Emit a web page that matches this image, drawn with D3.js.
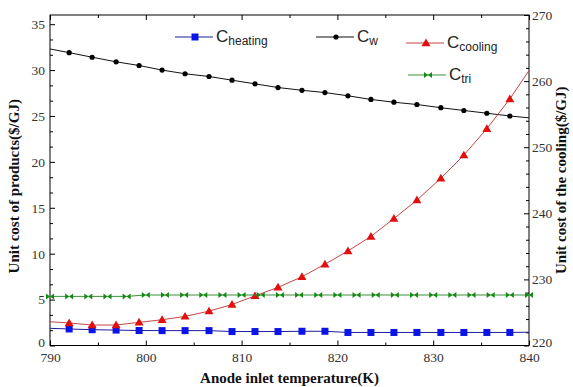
<!DOCTYPE html>
<html lang="en">
<head>
<meta charset="UTF-8">
<title>Unit cost vs anode inlet temperature</title>
<script src="https://cdn.jsdelivr.net/npm/d3@7/dist/d3.min.js"></script>
<style>
  body { margin: 0; background: #fff; }
  .tick text { font-family: "Liberation Serif", "DejaVu Serif", serif; font-size: 13.5px; fill: #333; }
  .axis-title { font-family: "Liberation Serif", serif; font-weight: bold; font-size: 15px; fill: #111; }
  .legend text { font-family: "Liberation Sans", Arial, sans-serif; fill: #222; }
</style>
</head>
<body>
<svg id="viz" width="573" height="387"></svg>
<script>
// marker temperatures for heating, w and cooling series (K)
const tempMarks = [792.0, 794.4, 796.9, 799.3, 801.7, 804.1, 806.6, 809.0, 811.4, 813.8,
                   816.3, 818.7, 821.1, 823.5, 825.9, 828.3, 830.8, 833.2, 835.6, 838.0];
// tri series markers every 2 K
const tempTri = [790, 792, 794, 796, 798, 800, 802, 804, 806, 808, 810, 812, 814,
                 816, 818, 820, 822, 824, 826, 828, 830, 832, 834, 836, 838, 840];

const cHeating = [1.8, 1.72, 1.68, 1.63, 1.62, 1.62, 1.62, 1.52, 1.52, 1.52,
                  1.55, 1.55, 1.42, 1.42, 1.42, 1.42, 1.42, 1.42, 1.42, 1.42];
const cW = [31.9, 31.4, 30.9, 30.5, 30.0, 29.6, 29.3, 28.9, 28.5, 28.1,
            27.8, 27.55, 27.2, 26.8, 26.5, 26.25, 25.9, 25.6, 25.3, 25.0];
const cCooling = [223.4, 223.1, 223.1, 223.5, 223.9, 224.4, 225.2, 226.2, 227.5, 228.8,
                  230.4, 232.3, 234.3, 236.5, 239.2, 242.0, 245.3, 248.8, 252.8, 257.3];
const cTri = [5.35, 5.35, 5.35, 5.35, 5.35, 5.5, 5.5, 5.5, 5.5, 5.5, 5.5, 5.5, 5.5,
              5.5, 5.5, 5.5, 5.5, 5.5, 5.5, 5.5, 5.5, 5.5, 5.5, 5.5, 5.5, 5.5];

// line ends at the frame edges (790 K and 840 K)
const heatingEnds = [1.87, 1.45];
const wEnds = [32.3, 24.8];
const coolingEnds = [223.6, 261.6];

const xTicks = [790, 800, 810, 820, 830, 840];
const yLeftTicks = [0, 5, 10, 15, 20, 25, 30, 35];
const yRightTicks = [220, 230, 240, 250, 260, 270];

const svg = d3.select("#viz");
const pLeft = 50, pRight = 529, pTop = 15, pBottom = 345.5;

const x = d3.scaleLinear().domain([790, 840]).range([pLeft, pRight]);
const yL = d3.scaleLinear().domain([0, 36]).range([pBottom, pTop]);
const yR = d3.scaleLinear().domain([220, 270]).range([pBottom, pTop]);

// frame
svg.append("rect")
  .attr("x", pLeft).attr("y", pTop)
  .attr("width", pRight - pLeft).attr("height", pBottom - pTop)
  .attr("fill", "none").attr("stroke", "#000").attr("stroke-width", 1);

function drawAxis(axis, tx, ty) {
  const g = svg.append("g").attr("transform", `translate(${tx},${ty})`).call(axis);
  g.select(".domain").remove();
  g.selectAll(".tick line").attr("stroke", "#000");
  return g;
}

const minorX = d3.range(795, 840, 10);
const minorL = d3.range(0, 36, 5 / 3).filter(v => Math.abs(v % 5) > 0.01 && Math.abs(v % 5 - 5) > 0.01);
const minorR = d3.range(222, 270, 2).filter(v => v % 10 !== 0);

// bottom / top
drawAxis(d3.axisBottom(x).tickValues(xTicks).tickSize(-5).tickPadding(7), 0, pBottom);
drawAxis(d3.axisBottom(x).tickValues(minorX).tickSize(-3).tickFormat(""), 0, pBottom);
drawAxis(d3.axisTop(x).tickValues(xTicks).tickSize(-5).tickFormat(""), 0, pTop);
drawAxis(d3.axisTop(x).tickValues(minorX).tickSize(-3).tickFormat(""), 0, pTop);

// left
drawAxis(d3.axisLeft(yL).tickValues(yLeftTicks).tickSize(-5).tickPadding(5), pLeft, 0)
  .selectAll(".tick text").filter(d => d === 0).attr("dy", "0.1em");
drawAxis(d3.axisLeft(yL).tickValues(minorL).tickSize(-3).tickFormat(""), pLeft, 0);

// right
drawAxis(d3.axisRight(yR).tickValues(yRightTicks).tickSize(-5).tickPadding(3), pRight, 0)
  .selectAll(".tick text").filter(d => d === 220).attr("dy", "0.1em");
drawAxis(d3.axisRight(yR).tickValues(minorR).tickSize(-3).tickFormat(""), pRight, 0);

// axis titles
svg.append("text").attr("class", "axis-title")
  .attr("x", (pLeft + pRight) / 2).attr("y", 383)
  .attr("text-anchor", "middle")
  .text("Anode inlet temperature(K)");
svg.append("text").attr("class", "axis-title")
  .attr("transform", `translate(19,${(pTop + pBottom) / 2 + 6}) rotate(-90)`)
  .attr("text-anchor", "middle")
  .text("Unit cost of products($/GJ)");
svg.append("text").attr("class", "axis-title")
  .attr("transform", `translate(566,${(pTop + pBottom) / 2}) rotate(-90)`)
  .attr("text-anchor", "middle")
  .text("Unit cost of the cooling($/GJ)");

// markers
const sym = {
  square: g => g.append("rect").attr("x", -3.5).attr("y", -3.5).attr("width", 7).attr("height", 7),
  circle: g => g.append("circle").attr("r", 2.6),
  triangle: g => g.append("path").attr("d", "M0,-4.5L4.5,3.2L-4.5,3.2Z"),
  bowtie: g => g.append("path").attr("d", "M-4,-3L0,0L-4,3ZM4,-3L0,0L4,3Z")
};

const series = [
  { xs: tempMarks, ys: cHeating, ends: heatingEnds, y: yL, line: "#1c1c9c", fill: "#0a14e6", shape: "square" },
  { xs: tempMarks, ys: cW, ends: wEnds, y: yL, line: "#111", fill: "#000", shape: "circle" },
  { xs: tempMarks, ys: cCooling, ends: coolingEnds, y: yR, line: "#c54545", fill: "#e30f0f", shape: "triangle" },
  { xs: tempTri, ys: cTri, ends: null, y: yL, line: "#3a913a", fill: "#138a13", shape: "bowtie" }
];

series.forEach(s => {
  let pts = s.xs.map((t, i) => [t, s.ys[i]]);
  const linePts = s.ends ? [[790, s.ends[0]], ...pts, [840, s.ends[1]]] : pts;
  svg.append("path")
    .datum(linePts)
    .attr("fill", "none")
    .attr("stroke", s.line)
    .attr("stroke-width", 1)
    .attr("d", d3.line().x(d => x(d[0])).y(d => s.y(d[1])));
  svg.append("g").selectAll("g")
    .data(pts)
    .join("g")
      .attr("transform", d => `translate(${x(d[0])},${s.y(d[1])})`)
      .each(function() { sym[s.shape](d3.select(this)).attr("fill", s.fill); });
});

// legend
const legendItems = [
  { name: "heating", lx: 175, y: 37, line: "#1c1c9c", fill: "#0a14e6", shape: "square" },
  { name: "w", lx: 316, y: 37, line: "#111", fill: "#000", shape: "circle" },
  { name: "cooling", lx: 406, y: 43, line: "#c54545", fill: "#e30f0f", shape: "triangle" },
  { name: "tri", lx: 408, y: 75, line: "#3a913a", fill: "#138a13", shape: "bowtie" }
];
const lg = svg.append("g").attr("class", "legend");
legendItems.forEach(d => {
  const g = lg.append("g").attr("transform", `translate(${d.lx},${d.y})`);
  g.append("line").attr("x1", 0).attr("x2", 38).attr("stroke", d.line).attr("stroke-width", 1);
  sym[d.shape](g.append("g").attr("transform", "translate(20,0)")).attr("fill", d.fill);
  const t = g.append("text").attr("x", 41).attr("y", 5).attr("font-size", 17).text("C");
  t.append("tspan").attr("font-size", 12).attr("dy", 3).text(d.name);
});
</script>
</body>
</html>
